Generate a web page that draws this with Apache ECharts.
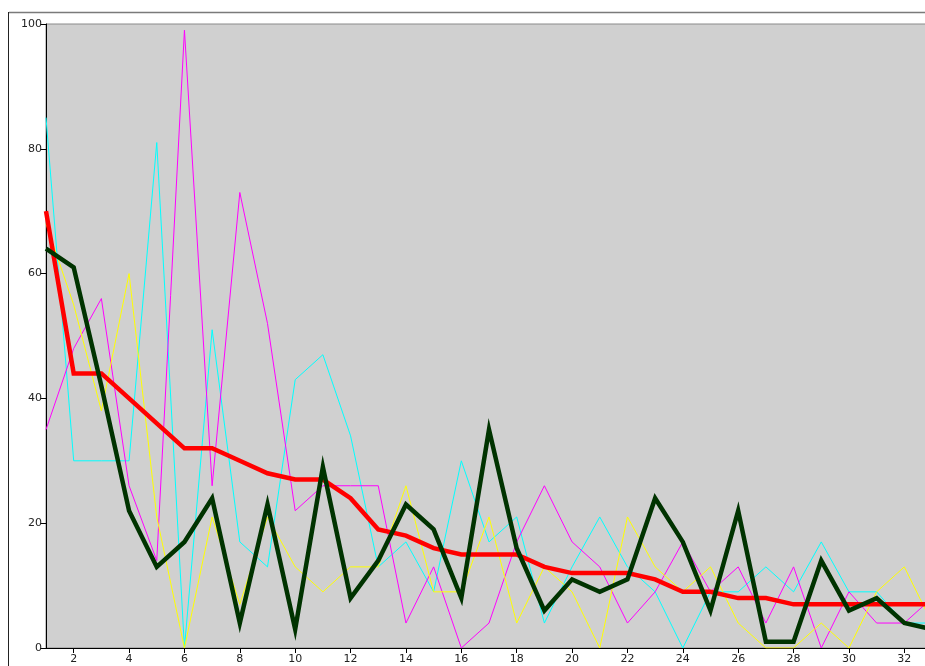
<!DOCTYPE html>
<html>
<head>
<meta charset="utf-8">
<script src="https://cdn.jsdelivr.net/npm/echarts@6/dist/echarts.min.js"></script>
<style>html,body{margin:0;padding:0;background:#fff;overflow:hidden;width:925px;height:666px;}#c{width:940px;height:666px;}</style>
</head>
<body>
<div id="c"></div>
<script>
var categories = ['1','2','3','4','5','6','7','8','9','10','11','12','13','14','15','16','17','18','19','20','21','22','23','24','25','26','27','28','29','30','31','32','33'];
var cyanValues    = [85,30,30,30,81,0,51,17,13,43,47,34,13,17,9,30,17,21,4,13,21,13,9,0,9,9,13,9,17,9,9,4,4];
var magentaValues = [35,48,56,26,14,99,26,73,52,22,26,26,26,4,13,0,4,17,26,17,13,4,9,17,9,13,4,13,0,9,4,4,8];
var yellowValues  = [68,55,38,60,21,0,21,7,21,13,9,13,13,26,9,9,21,4,13,9,0,21,13,9,13,4,0,0,4,0,9,13,4];
var redValues     = [70,44,44,40,36,32,32,30,28,27,27,24,19,18,16,15,15,15,13,12,12,12,11,9,9,8,8,7,7,7,7,7,7];
var greenValues   = [64,61,42,22,13,17,24,4,23,3,29,8,14,23,19,8,35,16,6,11,9,11,24,17,6,22,1,1,14,6,8,4,3];
var yTicks = [0,20,40,60,80,100];

var chart = echarts.init(document.getElementById('c'), null, {renderer:'canvas', width:940, height:666});
function thin(name, color, data){
  return {name:name, type:'line', data:data, symbol:'none', animation:false,
    lineStyle:{color:color, width:1}, z:2};
}
function thick(name, color, data, z){
  return {name:name, type:'line', data:data, symbol:'none', animation:false,
    lineStyle:{color:color, width:4.5, join:'miter'}, z:z};
}
var evenOnly = function(idx){ return idx % 2 === 1; };
chart.setOption({
  animation:false,
  backgroundColor:'#ffffff',
  grid:{left:46, top:24, width:886, height:624, outerBoundsMode:'none', containLabel:false, show:true, backgroundColor:'#d0d0d0', borderColor:'#8a8a8a', borderWidth:1},
  xAxis:{type:'category', data:categories, boundaryGap:false,
    axisLine:{lineStyle:{color:'#000', width:1}},
    axisTick:{show:true, interval:evenOnly, length:5, lineStyle:{color:'#000'}},
    axisLabel:{interval:evenOnly, color:'#222', fontFamily:'DejaVu Sans', fontSize:11, margin:6},
    splitLine:{show:false}},
  yAxis:{type:'value', min:yTicks[0], max:yTicks[yTicks.length-1], interval:20,
    axisLine:{show:true, lineStyle:{color:'#000', width:1}},
    axisTick:{show:true, length:6, lineStyle:{color:'#000'}},
    axisLabel:{color:'#222', fontFamily:'DejaVu Sans', fontSize:11, margin:4},
    splitLine:{show:false}},
  graphic:[
    {type:'line', shape:{x1:9, y1:12.5, x2:940, y2:12.5}, style:{stroke:'#7a7a7a', lineWidth:1.5}, silent:true},
    {type:'line', shape:{x1:8.5, y1:12, x2:8.5, y2:666}, style:{stroke:'#222', lineWidth:1}, silent:true}
  ],
  series:[
    thin('cyan','#00ffff',cyanValues),
    thin('magenta','#ff00ff',magentaValues),
    thin('yellow','#ffff00',yellowValues),
    thick('red','#ff0000',redValues,3),
    thick('green','#003300',greenValues,4)
  ]
});
</script>
</body>
</html>
